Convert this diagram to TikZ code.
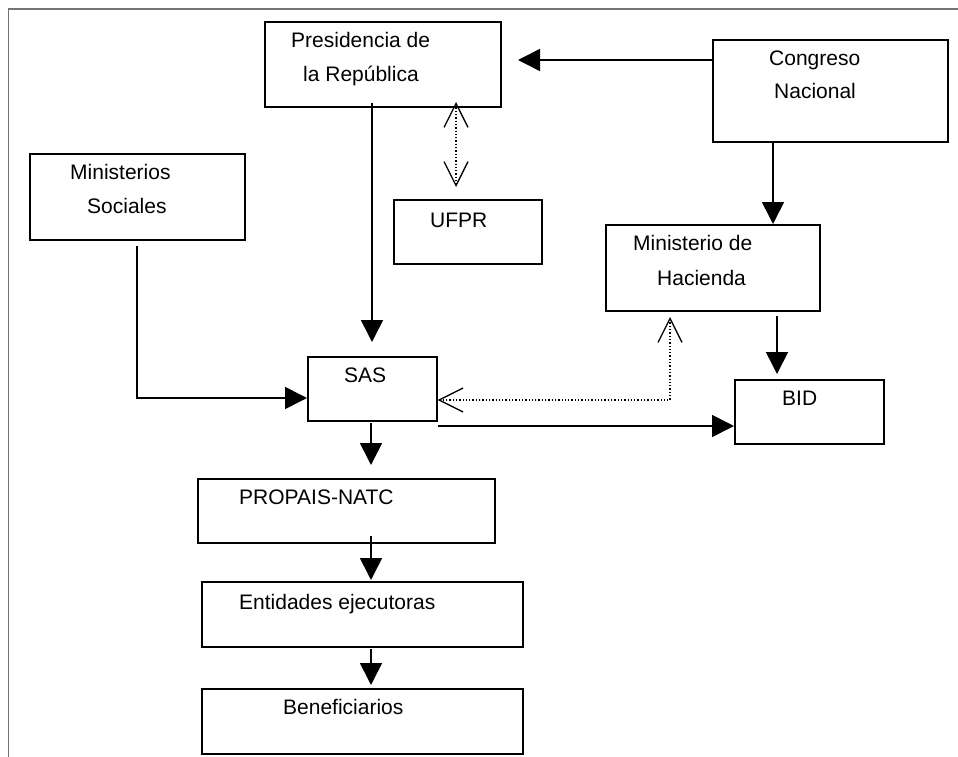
\documentclass[tikz,border=0pt]{standalone}
\usepackage{fontspec}
\setmainfont{Liberation Sans}
\usetikzlibrary{arrows.meta}
\tikzset{
  box/.style={draw, line width=1.6pt, rectangle, inner sep=0pt, anchor=north west},
  lbl/.style={anchor=base west, inner sep=0pt, font=\fontsize{21}{25}\selectfont},
  arr/.style={line width=1.6pt, -{Triangle[length=22pt,width=22pt]}},
  dotarr/.style={line width=1.3pt, dotted, {Straight Barb[length=24pt,width=24pt,line width=1.3pt]}-{Straight Barb[length=24pt,width=24pt,line width=1.3pt]}},
  plain/.style={line width=1.6pt}
}
\newcommand{\bx}[5]{\node[box, minimum width={#4-#2}, minimum height={#5-#3}] (#1) at (#2,#3) {};}
\begin{document}
\begin{tikzpicture}[x=1pt,y=-1pt]
\useasboundingbox (0,0) rectangle (958,757);
% frame
\draw[black!55, line width=1.3pt] (8.5,757) -- (8.5,9) -- (958,9);
% boxes
\bx{pres}{264}{21}{500}{106}
\bx{cong}{712}{39}{947}{141}
\bx{mins}{29}{153}{244}{239}
\bx{ufpr}{393}{199}{541}{263}
\bx{hac}{605}{224}{819}{310}
\bx{sas}{307}{356}{436}{420}
\bx{bid}{734}{379}{883}{443}
\bx{prop}{197}{478}{494}{542}
\bx{ent}{201}{581}{522}{646}
\bx{ben}{201}{688}{522}{753}
% texts
\node[lbl] (t1) at (291,47.5) {Presidencia de};
\node[lbl] (t2) at (303,81.5) {la República};
\node[lbl] (t3) at (769,65.5) {Congreso};
\node[lbl] (t4) at (774,98.5) {Nacional};
\node[lbl] (t5) at (70,179.5) {Ministerios};
\node[lbl] (t6) at (87,213.5) {Sociales};
\node[lbl] (t7) at (430,227.5) {UFPR};
\node[lbl] (t8) at (633,250.5) {Ministerio de};
\node[lbl] (t9) at (657,285.5) {Hacienda};
\node[lbl] (t10) at (344,382.5) {SAS};
\node[lbl] (t11) at (782,405.5) {BID};
\node[lbl] (t12) at (239,504.5) {PROPAIS-NATC};
\node[lbl] (t13) at (239,609.5) {Entidades ejecutoras};
\node[lbl] (t14) at (283,714.5) {Beneficiarios};
% connector end points
\coordinate (c1) at (518,60);
\coordinate (c2s) at (372,103);
\coordinate (c2e) at (372,342);
\coordinate (u1) at (456,102);
\coordinate (u2) at (456,187);
\coordinate (m1) at (137,246);
\coordinate (m2) at (137,398);
\coordinate (h1) at (670,317);
\coordinate (h2) at (670,400);
\coordinate (b1) at (777,316);
\coordinate (b2) at (777,374);
\coordinate (s1) at (371,423);
\coordinate (s2) at (371,465);
\coordinate (p1) at (371,536);
\coordinate (p2) at (371,580);
\coordinate (e1) at (371,649);
\coordinate (e2) at (371,685);
\coordinate (k1) at (773,0);
\coordinate (r1) at (0,426);
% connectors
\draw[arr] (cong.west |- c1) -- (c1);
\draw[arr] (c2s) -- (c2e);
\draw[dotarr] (u1) -- (u2);
\draw[arr] (cong.south -| k1) -- (hac.north -| k1);
\draw[arr] (m1) -- (m2) -- (sas.west |- m2);
\draw[dotarr] (h1) -- (h2) -- (sas.east |- h2);
\draw[arr] (b1) -- (b2);
\draw[arr] (sas.east |- r1) -- (bid.west |- r1);
\draw[arr] (s1) -- (s2);
\draw[arr] (p1) -- (p2);
\draw[arr] (e1) -- (e2);
\end{tikzpicture}
\end{document}
